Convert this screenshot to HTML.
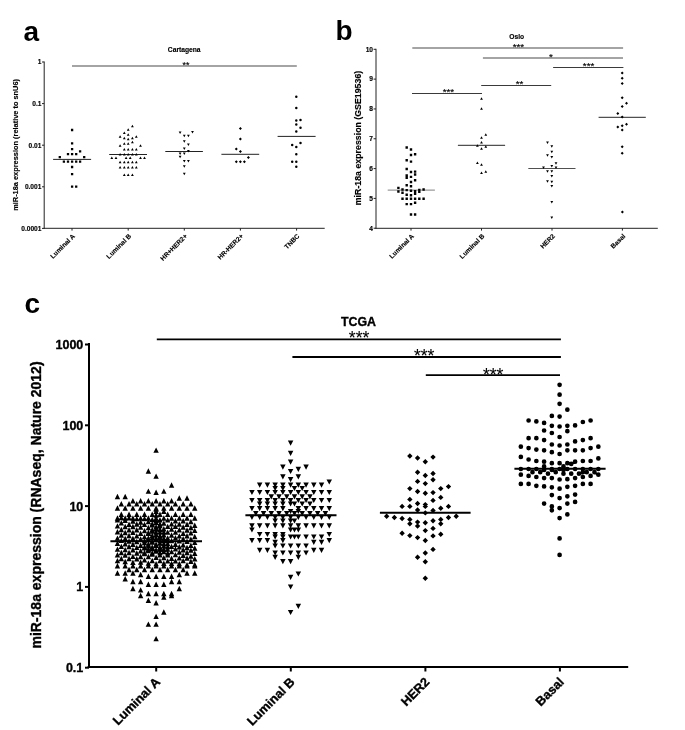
<!DOCTYPE html>
<html><head><meta charset="utf-8"><style>
html,body{margin:0;padding:0;background:#fff;}
svg{display:block;font-family:"Liberation Sans", sans-serif;will-change:transform;filter:blur(0.35px);}
</style></head><body>
<svg width="685" height="730" viewBox="0 0 685 730">
<rect width="685" height="730" fill="#fff"/>
<text x="23.6" y="40.7" font-size="28" font-weight="bold">a</text>
<text x="335.6" y="40.4" font-size="28" font-weight="bold">b</text>
<text x="24.6" y="312.8" font-size="28" font-weight="bold">c</text>
<line x1="44.20" y1="61.50" x2="44.20" y2="228.80" stroke="#222" stroke-width="1"/>
<line x1="43.70" y1="228.30" x2="324.70" y2="228.30" stroke="#222" stroke-width="1"/>
<line x1="42.00" y1="62.00" x2="44.20" y2="62.00" stroke="#222" stroke-width="1"/>
<text x="41.40" y="64.30" font-size="6.6" text-anchor="end" font-weight="bold" fill="#000" stroke="#000" stroke-width="0.15">1</text>
<line x1="42.00" y1="103.60" x2="44.20" y2="103.60" stroke="#222" stroke-width="1"/>
<text x="41.40" y="105.90" font-size="6.6" text-anchor="end" font-weight="bold" fill="#000" stroke="#000" stroke-width="0.15">0.1</text>
<line x1="42.00" y1="145.20" x2="44.20" y2="145.20" stroke="#222" stroke-width="1"/>
<text x="41.40" y="147.50" font-size="6.6" text-anchor="end" font-weight="bold" fill="#000" stroke="#000" stroke-width="0.15">0.01</text>
<line x1="42.00" y1="186.80" x2="44.20" y2="186.80" stroke="#222" stroke-width="1"/>
<text x="41.40" y="189.10" font-size="6.6" text-anchor="end" font-weight="bold" fill="#000" stroke="#000" stroke-width="0.15">0.001</text>
<line x1="42.00" y1="228.40" x2="44.20" y2="228.40" stroke="#222" stroke-width="1"/>
<text x="41.40" y="230.70" font-size="6.6" text-anchor="end" font-weight="bold" fill="#000" stroke="#000" stroke-width="0.15">0.0001</text>
<line x1="72.00" y1="228.30" x2="72.00" y2="230.60" stroke="#222" stroke-width="1"/>
<text x="75.40" y="236.60" font-size="6.6" text-anchor="end" font-weight="bold" fill="#000" stroke="#000" stroke-width="0.15" transform="rotate(-45 75.40 236.60)">Luminal A</text>
<line x1="128.20" y1="228.30" x2="128.20" y2="230.60" stroke="#222" stroke-width="1"/>
<text x="131.60" y="236.60" font-size="6.6" text-anchor="end" font-weight="bold" fill="#000" stroke="#000" stroke-width="0.15" transform="rotate(-45 131.60 236.60)">Luminal B</text>
<line x1="184.30" y1="228.30" x2="184.30" y2="230.60" stroke="#222" stroke-width="1"/>
<text x="187.70" y="236.60" font-size="6.6" text-anchor="end" font-weight="bold" fill="#000" stroke="#000" stroke-width="0.15" transform="rotate(-45 187.70 236.60)">HR+HER2+</text>
<line x1="240.40" y1="228.30" x2="240.40" y2="230.60" stroke="#222" stroke-width="1"/>
<text x="243.80" y="236.60" font-size="6.6" text-anchor="end" font-weight="bold" fill="#000" stroke="#000" stroke-width="0.15" transform="rotate(-45 243.80 236.60)">HR-HER2+</text>
<line x1="296.60" y1="228.30" x2="296.60" y2="230.60" stroke="#222" stroke-width="1"/>
<text x="300.00" y="236.60" font-size="6.6" text-anchor="end" font-weight="bold" fill="#000" stroke="#000" stroke-width="0.15" transform="rotate(-45 300.00 236.60)">TNBC</text>
<text x="184.20" y="52.00" font-size="6.7" text-anchor="middle" font-weight="bold" fill="#000" stroke="#000" stroke-width="0.15">Cartagena</text>
<line x1="72.00" y1="66.00" x2="296.80" y2="66.00" stroke="#a4a4a4" stroke-width="2"/>
<text x="186.00" y="67.80" font-size="8.8" text-anchor="middle" font-weight="normal" fill="#000" stroke="#000" stroke-width="0.15">**</text>
<text x="18.00" y="144.90" font-size="7.4" text-anchor="middle" font-weight="bold" fill="#000" stroke="#000" stroke-width="0.15" transform="rotate(-90 18.00 144.90)">miR-18a expression (relative to snU6)</text>
<line x1="53.10" y1="159.40" x2="91.10" y2="159.40" stroke="#222" stroke-width="1"/>
<line x1="109.20" y1="154.50" x2="147.00" y2="154.50" stroke="#222" stroke-width="1"/>
<line x1="165.30" y1="151.50" x2="202.90" y2="151.50" stroke="#222" stroke-width="1"/>
<line x1="221.40" y1="154.30" x2="259.20" y2="154.30" stroke="#222" stroke-width="1"/>
<line x1="277.60" y1="136.40" x2="315.60" y2="136.40" stroke="#222" stroke-width="1"/>
<path d="M70.95 128.85h2.30v2.30h-2.30ZM70.95 142.15h2.30v2.30h-2.30ZM70.95 147.95h2.30v2.30h-2.30ZM78.95 150.15h2.30v2.30h-2.30ZM66.85 152.95h2.30v2.30h-2.30ZM70.95 152.95h2.30v2.30h-2.30ZM75.05 152.95h2.30v2.30h-2.30ZM58.65 156.05h2.30v2.30h-2.30ZM83.05 156.05h2.30v2.30h-2.30ZM62.75 160.45h2.30v2.30h-2.30ZM66.85 160.45h2.30v2.30h-2.30ZM70.95 160.45h2.30v2.30h-2.30ZM75.05 160.45h2.30v2.30h-2.30ZM78.95 160.45h2.30v2.30h-2.30ZM70.95 165.85h2.30v2.30h-2.30ZM70.95 172.95h2.30v2.30h-2.30ZM70.95 185.55h2.30v2.30h-2.30ZM75.05 185.55h2.30v2.30h-2.30Z" fill="#000"/>
<path d="M131.00 127.26L132.40 124.74L133.80 127.26ZM126.80 130.76L128.20 128.24L129.60 130.76ZM122.90 133.96L124.30 131.44L125.70 133.96ZM126.80 135.76L128.20 133.24L129.60 135.76ZM118.70 137.86L120.10 135.34L121.50 137.86ZM134.90 137.86L136.30 135.34L137.70 137.86ZM122.90 139.26L124.30 136.74L125.70 139.26ZM131.00 139.26L132.40 136.74L133.80 139.26ZM126.80 140.36L128.20 137.84L129.60 140.36ZM131.00 143.16L132.40 140.64L133.80 143.16ZM122.90 144.76L124.30 142.24L125.70 144.76ZM126.80 144.76L128.20 142.24L129.60 144.76ZM118.70 146.66L120.10 144.14L121.50 146.66ZM139.10 146.66L140.50 144.14L141.90 146.66ZM122.90 150.56L124.30 148.04L125.70 150.56ZM126.80 150.56L128.20 148.04L129.60 150.56ZM131.00 150.56L132.40 148.04L133.80 150.56ZM134.90 150.56L136.30 148.04L137.70 150.56ZM118.70 155.46L120.10 152.94L121.50 155.46ZM122.90 155.46L124.30 152.94L125.70 155.46ZM126.80 155.46L128.20 152.94L129.60 155.46ZM131.00 155.46L132.40 152.94L133.80 155.46ZM134.90 155.46L136.30 152.94L137.70 155.46ZM110.40 159.06L111.80 156.54L113.20 159.06ZM114.60 159.06L116.00 156.54L117.40 159.06ZM124.70 159.06L126.10 156.54L127.50 159.06ZM128.80 159.06L130.20 156.54L131.60 159.06ZM139.10 159.06L140.50 156.54L141.90 159.06ZM143.10 159.06L144.50 156.54L145.90 159.06ZM118.70 163.16L120.10 160.64L121.50 163.16ZM122.90 163.16L124.30 160.64L125.70 163.16ZM126.80 163.16L128.20 160.64L129.60 163.16ZM131.00 163.16L132.40 160.64L133.80 163.16ZM134.90 163.16L136.30 160.64L137.70 163.16ZM118.70 168.56L120.10 166.04L121.50 168.56ZM122.90 168.56L124.30 166.04L125.70 168.56ZM126.80 168.56L128.20 166.04L129.60 168.56ZM131.00 168.56L132.40 166.04L133.80 168.56ZM134.90 168.56L136.30 166.04L137.70 168.56ZM122.90 175.96L124.30 173.44L125.70 175.96ZM126.80 175.96L128.20 173.44L129.60 175.96ZM131.00 175.96L132.40 173.44L133.80 175.96Z" fill="#000"/>
<path d="M178.70 131.54L180.10 134.06L181.50 131.54ZM191.10 130.94L192.50 133.46L193.90 130.94ZM182.90 134.84L184.30 137.36L185.70 134.84ZM187.00 134.84L188.40 137.36L189.80 134.84ZM182.90 140.14L184.30 142.66L185.70 140.14ZM187.00 143.44L188.40 145.96L189.80 143.44ZM182.90 147.54L184.30 150.06L185.70 147.54ZM187.00 149.94L188.40 152.46L189.80 149.94ZM178.70 152.54L180.10 155.06L181.50 152.54ZM182.90 152.54L184.30 155.06L185.70 152.54ZM178.70 155.84L180.10 158.36L181.50 155.84ZM182.90 159.94L184.30 162.46L185.70 159.94ZM187.00 159.94L188.40 162.46L189.80 159.94ZM182.90 165.24L184.30 167.76L185.70 165.24ZM182.90 172.84L184.30 175.36L185.70 172.84Z" fill="#000"/>
<path d="M240.40 127.00L241.90 128.50L240.40 130.00L238.90 128.50ZM240.40 137.60L241.90 139.10L240.40 140.60L238.90 139.10ZM236.30 147.60L237.80 149.10L236.30 150.60L234.80 149.10ZM240.40 150.00L241.90 151.50L240.40 153.00L238.90 151.50ZM248.40 156.10L249.90 157.60L248.40 159.10L246.90 157.60ZM236.30 160.30L237.80 161.80L236.30 163.30L234.80 161.80ZM240.40 160.30L241.90 161.80L240.40 163.30L238.90 161.80ZM244.40 160.30L245.90 161.80L244.40 163.30L242.90 161.80Z" fill="#000"/>
<path d="M295.05 96.70a1.25 1.25 0 1 0 2.50 0a1.25 1.25 0 1 0 -2.50 0ZM295.05 108.10a1.25 1.25 0 1 0 2.50 0a1.25 1.25 0 1 0 -2.50 0ZM295.05 120.40a1.25 1.25 0 1 0 2.50 0a1.25 1.25 0 1 0 -2.50 0ZM299.25 119.90a1.25 1.25 0 1 0 2.50 0a1.25 1.25 0 1 0 -2.50 0ZM295.05 124.50a1.25 1.25 0 1 0 2.50 0a1.25 1.25 0 1 0 -2.50 0ZM299.25 127.80a1.25 1.25 0 1 0 2.50 0a1.25 1.25 0 1 0 -2.50 0ZM295.05 131.60a1.25 1.25 0 1 0 2.50 0a1.25 1.25 0 1 0 -2.50 0ZM299.25 143.00a1.25 1.25 0 1 0 2.50 0a1.25 1.25 0 1 0 -2.50 0ZM290.95 145.00a1.25 1.25 0 1 0 2.50 0a1.25 1.25 0 1 0 -2.50 0ZM295.05 146.90a1.25 1.25 0 1 0 2.50 0a1.25 1.25 0 1 0 -2.50 0ZM295.05 154.30a1.25 1.25 0 1 0 2.50 0a1.25 1.25 0 1 0 -2.50 0ZM290.95 161.70a1.25 1.25 0 1 0 2.50 0a1.25 1.25 0 1 0 -2.50 0ZM295.05 161.70a1.25 1.25 0 1 0 2.50 0a1.25 1.25 0 1 0 -2.50 0ZM295.05 166.70a1.25 1.25 0 1 0 2.50 0a1.25 1.25 0 1 0 -2.50 0Z" fill="#000"/>
<line x1="376.00" y1="48.80" x2="376.00" y2="228.80" stroke="#222" stroke-width="1"/>
<line x1="375.50" y1="228.30" x2="657.80" y2="228.30" stroke="#222" stroke-width="1"/>
<line x1="373.60" y1="49.30" x2="376.00" y2="49.30" stroke="#222" stroke-width="1"/>
<text x="373.00" y="51.60" font-size="6.6" text-anchor="end" font-weight="bold" fill="#000" stroke="#000" stroke-width="0.15">10</text>
<line x1="373.60" y1="79.12" x2="376.00" y2="79.12" stroke="#222" stroke-width="1"/>
<text x="373.00" y="81.42" font-size="6.6" text-anchor="end" font-weight="bold" fill="#000" stroke="#000" stroke-width="0.15">9</text>
<line x1="373.60" y1="108.94" x2="376.00" y2="108.94" stroke="#222" stroke-width="1"/>
<text x="373.00" y="111.24" font-size="6.6" text-anchor="end" font-weight="bold" fill="#000" stroke="#000" stroke-width="0.15">8</text>
<line x1="373.60" y1="138.76" x2="376.00" y2="138.76" stroke="#222" stroke-width="1"/>
<text x="373.00" y="141.06" font-size="6.6" text-anchor="end" font-weight="bold" fill="#000" stroke="#000" stroke-width="0.15">7</text>
<line x1="373.60" y1="168.58" x2="376.00" y2="168.58" stroke="#222" stroke-width="1"/>
<text x="373.00" y="170.88" font-size="6.6" text-anchor="end" font-weight="bold" fill="#000" stroke="#000" stroke-width="0.15">6</text>
<line x1="373.60" y1="198.40" x2="376.00" y2="198.40" stroke="#222" stroke-width="1"/>
<text x="373.00" y="200.70" font-size="6.6" text-anchor="end" font-weight="bold" fill="#000" stroke="#000" stroke-width="0.15">5</text>
<line x1="373.60" y1="228.22" x2="376.00" y2="228.22" stroke="#222" stroke-width="1"/>
<text x="373.00" y="230.52" font-size="6.6" text-anchor="end" font-weight="bold" fill="#000" stroke="#000" stroke-width="0.15">4</text>
<line x1="411.00" y1="228.30" x2="411.00" y2="230.60" stroke="#222" stroke-width="1"/>
<text x="414.40" y="236.60" font-size="6.6" text-anchor="end" font-weight="bold" fill="#000" stroke="#000" stroke-width="0.15" transform="rotate(-45 414.40 236.60)">Luminal A</text>
<line x1="481.50" y1="228.30" x2="481.50" y2="230.60" stroke="#222" stroke-width="1"/>
<text x="484.90" y="236.60" font-size="6.6" text-anchor="end" font-weight="bold" fill="#000" stroke="#000" stroke-width="0.15" transform="rotate(-45 484.90 236.60)">Luminal B</text>
<line x1="552.00" y1="228.30" x2="552.00" y2="230.60" stroke="#222" stroke-width="1"/>
<text x="555.40" y="236.60" font-size="6.6" text-anchor="end" font-weight="bold" fill="#000" stroke="#000" stroke-width="0.15" transform="rotate(-45 555.40 236.60)">HER2</text>
<line x1="622.40" y1="228.30" x2="622.40" y2="230.60" stroke="#222" stroke-width="1"/>
<text x="625.80" y="236.60" font-size="6.6" text-anchor="end" font-weight="bold" fill="#000" stroke="#000" stroke-width="0.15" transform="rotate(-45 625.80 236.60)">Basal</text>
<text x="516.70" y="38.80" font-size="6.7" text-anchor="middle" font-weight="bold" fill="#000" stroke="#000" stroke-width="0.15">Oslo</text>
<text x="361.00" y="138.00" font-size="8.8" text-anchor="middle" font-weight="bold" fill="#000" stroke="#000" stroke-width="0.15" transform="rotate(-90 361.00 138.00)">miR-18a expression (GSE19536)</text>
<line x1="412.30" y1="48.00" x2="623.10" y2="48.00" stroke="#a4a4a4" stroke-width="2"/>
<text x="518.40" y="49.50" font-size="9.8" text-anchor="middle" font-weight="normal" fill="#000" stroke="#000" stroke-width="0.15">***</text>
<line x1="482.90" y1="58.00" x2="623.00" y2="58.00" stroke="#a4a4a4" stroke-width="2"/>
<text x="550.90" y="59.80" font-size="9.8" text-anchor="middle" font-weight="normal" fill="#000" stroke="#000" stroke-width="0.15">*</text>
<line x1="553.10" y1="67.50" x2="623.40" y2="67.50" stroke="#3a3a3a" stroke-width="1.1"/>
<text x="588.60" y="68.80" font-size="9.8" text-anchor="middle" font-weight="normal" fill="#000" stroke="#000" stroke-width="0.15">***</text>
<line x1="481.20" y1="85.50" x2="551.20" y2="85.50" stroke="#3a3a3a" stroke-width="1.1"/>
<text x="519.60" y="87.00" font-size="9.8" text-anchor="middle" font-weight="normal" fill="#000" stroke="#000" stroke-width="0.15">**</text>
<line x1="412.00" y1="93.50" x2="482.00" y2="93.50" stroke="#3a3a3a" stroke-width="1.1"/>
<text x="448.40" y="94.80" font-size="9.8" text-anchor="middle" font-weight="normal" fill="#000" stroke="#000" stroke-width="0.15">***</text>
<line x1="387.70" y1="190.10" x2="434.90" y2="190.10" stroke="#9a9a9a" stroke-width="1.2"/>
<line x1="457.90" y1="145.40" x2="505.10" y2="145.40" stroke="#505050" stroke-width="1.2"/>
<line x1="528.30" y1="168.50" x2="575.50" y2="168.50" stroke="#505050" stroke-width="1.2"/>
<line x1="598.60" y1="117.40" x2="645.80" y2="117.40" stroke="#505050" stroke-width="1.2"/>
<path d="M405.50 146.30h2.40v2.40h-2.40ZM409.80 148.30h2.40v2.40h-2.40ZM409.80 153.80h2.40v2.40h-2.40ZM413.90 153.00h2.40v2.40h-2.40ZM405.50 159.10h2.40v2.40h-2.40ZM409.80 160.40h2.40v2.40h-2.40ZM405.50 167.80h2.40v2.40h-2.40ZM409.80 170.80h2.40v2.40h-2.40ZM413.90 170.40h2.40v2.40h-2.40ZM413.90 173.30h2.40v2.40h-2.40ZM405.50 174.20h2.40v2.40h-2.40ZM405.50 176.60h2.40v2.40h-2.40ZM409.80 175.70h2.40v2.40h-2.40ZM413.90 179.00h2.40v2.40h-2.40ZM409.80 180.80h2.40v2.40h-2.40ZM405.50 184.00h2.40v2.40h-2.40ZM409.80 185.00h2.40v2.40h-2.40ZM397.20 186.70h2.40v2.40h-2.40ZM397.20 190.30h2.40v2.40h-2.40ZM401.30 188.30h2.40v2.40h-2.40ZM405.50 188.90h2.40v2.40h-2.40ZM409.80 189.50h2.40v2.40h-2.40ZM413.90 190.00h2.40v2.40h-2.40ZM418.10 188.70h2.40v2.40h-2.40ZM422.40 188.30h2.40v2.40h-2.40ZM418.10 190.60h2.40v2.40h-2.40ZM413.90 192.50h2.40v2.40h-2.40ZM401.30 191.60h2.40v2.40h-2.40ZM405.50 193.60h2.40v2.40h-2.40ZM409.80 194.10h2.40v2.40h-2.40ZM401.30 197.60h2.40v2.40h-2.40ZM405.50 197.60h2.40v2.40h-2.40ZM409.80 197.60h2.40v2.40h-2.40ZM413.90 197.60h2.40v2.40h-2.40ZM418.10 197.60h2.40v2.40h-2.40ZM422.40 197.60h2.40v2.40h-2.40ZM405.50 202.90h2.40v2.40h-2.40ZM409.80 202.90h2.40v2.40h-2.40ZM413.90 201.60h2.40v2.40h-2.40ZM409.80 213.30h2.40v2.40h-2.40ZM413.90 213.30h2.40v2.40h-2.40Z" fill="#000"/>
<path d="M480.10 99.66L481.50 97.14L482.90 99.66ZM480.10 109.66L481.50 107.14L482.90 109.66ZM484.40 135.76L485.80 133.24L487.20 135.76ZM480.10 138.66L481.50 136.14L482.90 138.66ZM480.10 143.56L481.50 141.04L482.90 143.56ZM476.00 146.76L477.40 144.24L478.80 146.76ZM484.40 147.66L485.80 145.14L487.20 147.66ZM480.10 149.66L481.50 147.14L482.90 149.66ZM476.00 163.96L477.40 161.44L478.80 163.96ZM480.10 165.66L481.50 163.14L482.90 165.66ZM480.10 174.06L481.50 171.54L482.90 174.06ZM484.40 172.76L485.80 170.24L487.20 172.76Z" fill="#000"/>
<path d="M546.10 141.54L547.50 144.06L548.90 141.54ZM550.40 145.24L551.80 147.76L553.20 145.24ZM550.40 150.84L551.80 153.36L553.20 150.84ZM546.10 154.14L547.50 156.66L548.90 154.14ZM550.40 156.04L551.80 158.56L553.20 156.04ZM554.60 162.34L556.00 164.86L557.40 162.34ZM550.40 164.94L551.80 167.46L553.20 164.94ZM542.10 166.44L543.50 168.96L544.90 166.44ZM554.60 166.44L556.00 168.96L557.40 166.44ZM546.10 170.14L547.50 172.66L548.90 170.14ZM550.40 170.14L551.80 172.66L553.20 170.14ZM550.40 174.94L551.80 177.46L553.20 174.94ZM546.10 180.14L547.50 182.66L548.90 180.14ZM550.40 180.84L551.80 183.36L553.20 180.84ZM550.40 184.94L551.80 187.46L553.20 184.94ZM550.40 200.94L551.80 203.46L553.20 200.94ZM550.40 216.54L551.80 219.06L553.20 216.54Z" fill="#000"/>
<path d="M622.20 71.50L623.70 73.00L622.20 74.50L620.70 73.00ZM622.20 76.70L623.70 78.20L622.20 79.70L620.70 78.20ZM622.20 81.90L623.70 83.40L622.20 84.90L620.70 83.40ZM622.20 96.20L623.70 97.70L622.20 99.20L620.70 97.70ZM626.50 101.80L628.00 103.30L626.50 104.80L625.00 103.30ZM622.20 105.10L623.70 106.60L622.20 108.10L620.70 106.60ZM617.80 111.90L619.30 113.40L617.80 114.90L616.30 113.40ZM622.20 115.50L623.70 117.00L622.20 118.50L620.70 117.00ZM626.50 122.70L628.00 124.20L626.50 125.70L625.00 124.20ZM622.20 124.20L623.70 125.70L622.20 127.20L620.70 125.70ZM617.80 125.50L619.30 127.00L617.80 128.50L616.30 127.00ZM622.20 128.50L623.70 130.00L622.20 131.50L620.70 130.00ZM622.20 145.30L623.70 146.80L622.20 148.30L620.70 146.80ZM622.20 151.80L623.70 153.30L622.20 154.80L620.70 153.30ZM622.40 210.50L623.90 212.00L622.40 213.50L620.90 212.00Z" fill="#000"/>
<line x1="89.00" y1="343.00" x2="89.00" y2="668.00" stroke="#000" stroke-width="2"/>
<line x1="87.60" y1="667.00" x2="628.20" y2="667.00" stroke="#000" stroke-width="2"/>
<line x1="85.00" y1="344.50" x2="89.00" y2="344.50" stroke="#000" stroke-width="2"/>
<text x="83.30" y="349.00" font-size="12.5" text-anchor="end" font-weight="bold" fill="#000" stroke="#000" stroke-width="0.35">1000</text>
<line x1="85.00" y1="425.30" x2="89.00" y2="425.30" stroke="#000" stroke-width="2"/>
<text x="83.30" y="429.80" font-size="12.5" text-anchor="end" font-weight="bold" fill="#000" stroke="#000" stroke-width="0.35">100</text>
<line x1="85.00" y1="506.10" x2="89.00" y2="506.10" stroke="#000" stroke-width="2"/>
<text x="83.30" y="510.60" font-size="12.5" text-anchor="end" font-weight="bold" fill="#000" stroke="#000" stroke-width="0.35">10</text>
<line x1="85.00" y1="586.90" x2="89.00" y2="586.90" stroke="#000" stroke-width="2"/>
<text x="83.30" y="591.40" font-size="12.5" text-anchor="end" font-weight="bold" fill="#000" stroke="#000" stroke-width="0.35">1</text>
<line x1="85.00" y1="667.70" x2="89.00" y2="667.70" stroke="#000" stroke-width="2"/>
<text x="83.30" y="672.20" font-size="12.5" text-anchor="end" font-weight="bold" fill="#000" stroke="#000" stroke-width="0.35">0.1</text>
<line x1="156.20" y1="667.00" x2="156.20" y2="671.50" stroke="#000" stroke-width="2"/>
<text x="161.00" y="682.80" font-size="12.7" text-anchor="end" font-weight="bold" fill="#000" stroke="#000" stroke-width="0.35" transform="rotate(-45 161.00 682.80)">Luminal A</text>
<line x1="290.80" y1="667.00" x2="290.80" y2="671.50" stroke="#000" stroke-width="2"/>
<text x="295.60" y="682.80" font-size="12.7" text-anchor="end" font-weight="bold" fill="#000" stroke="#000" stroke-width="0.35" transform="rotate(-45 295.60 682.80)">Luminal B</text>
<line x1="425.40" y1="667.00" x2="425.40" y2="671.50" stroke="#000" stroke-width="2"/>
<text x="430.20" y="682.80" font-size="12.7" text-anchor="end" font-weight="bold" fill="#000" stroke="#000" stroke-width="0.35" transform="rotate(-45 430.20 682.80)">HER2</text>
<line x1="559.90" y1="667.00" x2="559.90" y2="671.50" stroke="#000" stroke-width="2"/>
<text x="564.70" y="682.80" font-size="12.7" text-anchor="end" font-weight="bold" fill="#000" stroke="#000" stroke-width="0.35" transform="rotate(-45 564.70 682.80)">Basal</text>
<text x="358.50" y="325.70" font-size="12.4" text-anchor="middle" font-weight="bold" fill="#000" stroke="#000" stroke-width="0.35">TCGA</text>
<line x1="156.80" y1="339.30" x2="560.90" y2="339.30" stroke="#000" stroke-width="1.8"/>
<text x="359.10" y="343.50" font-size="17.6" text-anchor="middle" font-weight="normal" fill="#000" stroke="#000" stroke-width="0.1">***</text>
<line x1="292.40" y1="357.00" x2="560.90" y2="357.00" stroke="#000" stroke-width="1.8"/>
<text x="424.20" y="362.30" font-size="17.6" text-anchor="middle" font-weight="normal" fill="#000" stroke="#000" stroke-width="0.1">***</text>
<line x1="425.80" y1="375.10" x2="560.00" y2="375.10" stroke="#000" stroke-width="1.8"/>
<text x="493.20" y="380.70" font-size="17.6" text-anchor="middle" font-weight="normal" fill="#000" stroke="#000" stroke-width="0.1">***</text>
<text x="41.10" y="505.00" font-size="14" text-anchor="middle" font-weight="bold" fill="#000" stroke="#000" stroke-width="0.35" transform="rotate(-90 41.10 505.00)">miR-18a expression (RNAseq, Nature 2012)</text>
<line x1="110.40" y1="541.30" x2="202.00" y2="541.30" stroke="#000" stroke-width="2"/>
<line x1="245.40" y1="515.30" x2="336.50" y2="515.30" stroke="#000" stroke-width="2"/>
<line x1="379.90" y1="512.70" x2="470.60" y2="512.70" stroke="#000" stroke-width="2"/>
<line x1="514.40" y1="468.70" x2="605.60" y2="468.70" stroke="#000" stroke-width="2"/>
<path d="M153.40 452.80L156.10 447.40L158.80 452.80ZM145.67 473.70L148.37 468.30L151.07 473.70ZM153.40 478.80L156.10 473.40L158.80 478.80ZM168.86 487.70L171.56 482.30L174.26 487.70ZM145.67 493.80L148.37 488.40L151.07 493.80ZM161.13 493.80L163.83 488.40L166.53 493.80ZM153.40 494.90L156.10 489.50L158.80 494.90ZM114.75 499.20L117.45 493.80L120.15 499.20ZM122.48 499.20L125.18 493.80L127.88 499.20ZM176.59 500.70L179.29 495.30L181.99 500.70ZM184.32 500.70L187.02 495.30L189.72 500.70ZM130.21 503.40L132.91 498.00L135.61 503.40ZM137.94 503.40L140.64 498.00L143.34 503.40ZM145.67 503.40L148.37 498.00L151.07 503.40ZM153.40 503.40L156.10 498.00L158.80 503.40ZM161.13 503.40L163.83 498.00L166.53 503.40ZM168.86 503.40L171.56 498.00L174.26 503.40ZM118.61 506.50L121.31 501.10L124.02 506.50ZM126.34 506.50L129.04 501.10L131.74 506.50ZM134.07 506.50L136.77 501.10L139.47 506.50ZM141.81 506.50L144.50 501.10L147.20 506.50ZM149.53 506.50L152.23 501.10L154.93 506.50ZM157.27 506.50L159.97 501.10L162.66 506.50ZM165.00 506.50L167.69 501.10L170.39 506.50ZM172.73 506.50L175.43 501.10L178.12 506.50ZM180.46 506.50L183.16 501.10L185.85 506.50ZM188.19 506.50L190.88 501.10L193.58 506.50ZM114.75 510.70L117.45 505.30L120.15 510.70ZM122.48 510.70L125.18 505.30L127.88 510.70ZM130.21 510.70L132.91 505.30L135.61 510.70ZM137.94 510.70L140.64 505.30L143.34 510.70ZM145.67 510.70L148.37 505.30L151.07 510.70ZM153.40 510.70L156.10 505.30L158.80 510.70ZM161.13 510.70L163.83 505.30L166.53 510.70ZM168.86 510.70L171.56 505.30L174.26 510.70ZM176.59 510.70L179.29 505.30L181.99 510.70ZM184.32 510.70L187.02 505.30L189.72 510.70ZM192.05 510.70L194.75 505.30L197.45 510.70ZM153.40 513.90L156.10 508.50L158.80 513.90ZM161.13 513.90L163.83 508.50L166.53 513.90ZM118.61 517.00L121.31 511.60L124.02 517.00ZM126.34 517.00L129.04 511.60L131.74 517.00ZM134.07 517.00L136.77 511.60L139.47 517.00ZM141.81 517.00L144.50 511.60L147.20 517.00ZM149.53 517.00L152.23 511.60L154.93 517.00ZM157.27 517.00L159.97 511.60L162.66 517.00ZM165.00 517.00L167.69 511.60L170.39 517.00ZM172.73 517.00L175.43 511.60L178.12 517.00ZM180.46 517.00L183.16 511.60L185.85 517.00ZM188.19 517.00L190.88 511.60L193.58 517.00ZM114.75 520.70L117.45 515.30L120.15 520.70ZM122.48 520.70L125.18 515.30L127.88 520.70ZM130.21 520.70L132.91 515.30L135.61 520.70ZM137.94 520.70L140.64 515.30L143.34 520.70ZM145.67 520.70L148.37 515.30L151.07 520.70ZM153.40 520.70L156.10 515.30L158.80 520.70ZM161.13 520.70L163.83 515.30L166.53 520.70ZM168.86 520.70L171.56 515.30L174.26 520.70ZM176.59 520.70L179.29 515.30L181.99 520.70ZM184.32 520.70L187.02 515.30L189.72 520.70ZM192.05 520.70L194.75 515.30L197.45 520.70ZM118.61 520.20L121.31 514.80L124.02 520.20ZM126.34 520.38L129.04 514.98L131.74 520.38ZM134.07 521.33L136.77 515.93L139.47 521.33ZM141.81 521.20L144.50 515.80L147.20 521.20ZM149.53 522.11L152.23 516.71L154.93 522.11ZM157.27 522.39L159.97 516.99L162.66 522.39ZM165.00 522.53L167.69 517.13L170.39 522.53ZM172.73 523.43L175.43 518.03L178.12 523.43ZM180.46 523.41L183.16 518.01L185.85 523.41ZM188.19 524.26L190.88 518.86L193.58 524.26ZM114.75 522.52L117.45 517.12L120.15 522.52ZM122.48 522.99L125.18 517.59L127.88 522.99ZM130.21 523.77L132.91 518.37L135.61 523.77ZM137.94 524.63L140.64 519.23L143.34 524.63ZM145.67 524.37L148.37 518.97L151.07 524.37ZM153.40 524.92L156.10 519.52L158.80 524.92ZM161.13 525.78L163.83 520.38L166.53 525.78ZM168.86 526.55L171.56 521.15L174.26 526.55ZM176.59 526.63L179.29 521.23L181.99 526.63ZM184.32 526.90L187.02 521.50L189.72 526.90ZM192.05 527.93L194.75 522.53L197.45 527.93ZM118.61 525.62L121.31 520.22L124.02 525.62ZM126.34 526.88L129.04 521.48L131.74 526.88ZM134.07 526.76L136.77 521.36L139.47 526.76ZM141.81 527.07L144.50 521.67L147.20 527.07ZM149.53 527.49L152.23 522.09L154.93 527.49ZM157.27 528.13L159.97 522.73L162.66 528.13ZM165.00 529.09L167.69 523.69L170.39 529.09ZM172.73 528.91L175.43 523.51L178.12 528.91ZM180.46 529.76L183.16 524.36L185.85 529.76ZM188.19 530.26L190.88 524.86L193.58 530.26ZM114.75 528.62L117.45 523.22L120.15 528.62ZM122.48 529.25L125.18 523.85L127.88 529.25ZM130.21 529.21L132.91 523.81L135.61 529.21ZM137.94 529.66L140.64 524.26L143.34 529.66ZM145.67 530.26L148.37 524.86L151.07 530.26ZM153.40 531.18L156.10 525.78L158.80 531.18ZM161.13 531.38L163.83 525.98L166.53 531.38ZM168.86 531.71L171.56 526.31L174.26 531.71ZM176.59 532.44L179.29 527.04L181.99 532.44ZM184.32 532.75L187.02 527.35L189.72 532.75ZM192.05 533.05L194.75 527.65L197.45 533.05ZM118.61 532.17L121.31 526.77L124.02 532.17ZM126.34 532.52L129.04 527.12L131.74 532.52ZM134.07 532.52L136.77 527.12L139.47 532.52ZM141.81 533.30L144.50 527.90L147.20 533.30ZM149.53 533.70L152.23 528.30L154.93 533.70ZM157.27 534.50L159.97 529.10L162.66 534.50ZM165.00 534.80L167.69 529.40L170.39 534.80ZM172.73 534.81L175.43 529.41L178.12 534.81ZM180.46 535.96L183.16 530.56L185.85 535.96ZM188.19 535.54L190.88 530.14L193.58 535.54ZM114.75 534.47L117.45 529.07L120.15 534.47ZM122.48 535.26L125.18 529.86L127.88 535.26ZM130.21 535.10L132.91 529.70L135.61 535.10ZM137.94 535.89L140.64 530.49L143.34 535.89ZM145.67 535.89L148.37 530.49L151.07 535.89ZM153.40 536.97L156.10 531.57L158.80 536.97ZM161.13 537.51L163.83 532.11L166.53 537.51ZM168.86 537.77L171.56 532.37L174.26 537.77ZM176.59 538.53L179.29 533.13L181.99 538.53ZM184.32 538.41L187.02 533.01L189.72 538.41ZM192.05 539.25L194.75 533.85L197.45 539.25ZM118.61 537.77L121.31 532.37L124.02 537.77ZM126.34 538.20L129.04 532.80L131.74 538.20ZM134.07 538.53L136.77 533.13L139.47 538.53ZM141.81 539.36L144.50 533.96L147.20 539.36ZM149.53 539.92L152.23 534.52L154.93 539.92ZM157.27 539.90L159.97 534.50L162.66 539.90ZM165.00 540.54L167.69 535.14L170.39 540.54ZM172.73 540.39L175.43 534.99L178.12 540.39ZM180.46 541.48L183.16 536.08L185.85 541.48ZM188.19 541.87L190.88 536.47L193.58 541.87ZM114.75 540.84L117.45 535.44L120.15 540.84ZM122.48 541.12L125.18 535.72L127.88 541.12ZM130.21 541.03L132.91 535.63L135.61 541.03ZM137.94 541.59L140.64 536.19L143.34 541.59ZM145.67 542.32L148.37 536.92L151.07 542.32ZM153.40 542.12L156.10 536.72L158.80 542.12ZM161.13 543.01L163.83 537.61L166.53 543.01ZM168.86 543.17L171.56 537.77L174.26 543.17ZM176.59 543.57L179.29 538.17L181.99 543.57ZM184.32 543.96L187.02 538.56L189.72 543.96ZM192.05 545.12L194.75 539.72L197.45 545.12ZM118.61 543.10L121.31 537.70L124.02 543.10ZM126.34 543.67L129.04 538.27L131.74 543.67ZM134.07 544.27L136.77 538.87L139.47 544.27ZM141.81 545.20L144.50 539.80L147.20 545.20ZM149.53 544.86L152.23 539.46L154.93 544.86ZM157.27 545.67L159.97 540.27L162.66 545.67ZM165.00 546.22L167.69 540.82L170.39 546.22ZM172.73 547.01L175.43 541.61L178.12 547.01ZM180.46 547.39L183.16 541.99L185.85 547.39ZM188.19 547.89L190.88 542.49L193.58 547.89ZM114.75 545.93L117.45 540.53L120.15 545.93ZM122.48 546.52L125.18 541.12L127.88 546.52ZM130.21 546.91L132.91 541.51L135.61 546.91ZM137.94 547.88L140.64 542.48L143.34 547.88ZM145.67 548.41L148.37 543.01L151.07 548.41ZM153.40 548.05L156.10 542.65L158.80 548.05ZM161.13 548.53L163.83 543.13L166.53 548.53ZM168.86 549.03L171.56 543.63L174.26 549.03ZM176.59 549.48L179.29 544.08L181.99 549.48ZM184.32 550.18L187.02 544.78L189.72 550.18ZM192.05 550.74L194.75 545.34L197.45 550.74ZM118.61 549.04L121.31 543.64L124.02 549.04ZM126.34 549.23L129.04 543.83L131.74 549.23ZM134.07 550.09L136.77 544.69L139.47 550.09ZM141.81 550.49L144.50 545.09L147.20 550.49ZM149.53 551.14L152.23 545.74L154.93 551.14ZM157.27 551.63L159.97 546.23L162.66 551.63ZM165.00 551.82L167.69 546.42L170.39 551.82ZM172.73 551.53L175.43 546.13L178.12 551.53ZM180.46 552.52L183.16 547.12L185.85 552.52ZM188.19 552.81L190.88 547.41L193.58 552.81ZM114.75 551.84L117.45 546.44L120.15 551.84ZM122.48 552.30L125.18 546.90L127.88 552.30ZM130.21 552.45L132.91 547.05L135.61 552.45ZM137.94 553.43L140.64 548.03L143.34 553.43ZM145.67 553.31L148.37 547.91L151.07 553.31ZM153.40 553.77L156.10 548.37L158.80 553.77ZM161.13 554.13L163.83 548.73L166.53 554.13ZM168.86 554.29L171.56 548.89L174.26 554.29ZM176.59 554.66L179.29 549.26L181.99 554.66ZM184.32 555.14L187.02 549.74L189.72 555.14ZM192.05 555.92L194.75 550.52L197.45 555.92ZM118.61 555.19L121.31 549.79L124.02 555.19ZM126.34 555.17L129.04 549.77L131.74 555.17ZM134.07 555.73L136.77 550.33L139.47 555.73ZM141.81 556.27L144.50 550.87L147.20 556.27ZM149.53 556.74L152.23 551.34L154.93 556.74ZM157.27 557.58L159.97 552.18L162.66 557.58ZM165.00 557.47L167.69 552.07L170.39 557.47ZM172.73 557.36L175.43 551.96L178.12 557.36ZM180.46 557.89L183.16 552.49L185.85 557.89ZM188.19 558.64L190.88 553.24L193.58 558.64ZM114.75 557.41L117.45 552.01L120.15 557.41ZM122.48 557.72L125.18 552.32L127.88 557.72ZM130.21 559.10L132.91 553.70L135.61 559.10ZM137.94 559.13L140.64 553.73L143.34 559.13ZM145.67 559.20L148.37 553.80L151.07 559.20ZM153.40 560.04L156.10 554.64L158.80 560.04ZM161.13 560.30L163.83 554.90L166.53 560.30ZM168.86 560.90L171.56 555.50L174.26 560.90ZM176.59 560.57L179.29 555.17L181.99 560.57ZM184.32 560.75L187.02 555.35L189.72 560.75ZM192.05 561.38L194.75 555.98L197.45 561.38ZM118.61 561.15L121.31 555.75L124.02 561.15ZM126.34 561.15L129.04 555.75L131.74 561.15ZM134.07 561.50L136.77 556.10L139.47 561.50ZM141.81 562.54L144.50 557.14L147.20 562.54ZM149.53 563.16L152.23 557.76L154.93 563.16ZM157.27 563.34L159.97 557.94L162.66 563.34ZM165.00 563.54L167.69 558.14L170.39 563.54ZM172.73 563.59L175.43 558.19L178.12 563.59ZM180.46 563.37L183.16 557.97L185.85 563.37ZM188.19 563.89L190.88 558.49L193.58 563.89ZM114.75 563.31L117.45 557.91L120.15 563.31ZM122.48 564.19L125.18 558.79L127.88 564.19ZM130.21 564.91L132.91 559.51L135.61 564.91ZM137.94 564.85L140.64 559.45L143.34 564.85ZM145.67 565.79L148.37 560.39L151.07 565.79ZM153.40 566.29L156.10 560.89L158.80 566.29ZM161.13 565.93L163.83 560.53L166.53 565.93ZM168.86 566.07L171.56 560.67L174.26 566.07ZM176.59 566.31L179.29 560.91L181.99 566.31ZM184.32 567.28L187.02 561.88L189.72 567.28ZM192.05 567.13L194.75 561.73L197.45 567.13ZM153.40 511.82L156.10 506.42L158.80 511.82ZM153.40 517.74L156.10 512.34L158.80 517.74ZM153.40 522.97L156.10 517.57L158.80 522.97ZM149.53 526.33L152.23 520.93L154.93 526.33ZM157.27 526.53L159.97 521.13L162.66 526.53ZM153.40 529.33L156.10 523.93L158.80 529.33ZM149.53 532.20L152.23 526.80L154.93 532.20ZM157.27 531.98L159.97 526.58L162.66 531.98ZM153.40 534.64L156.10 529.24L158.80 534.64ZM145.67 535.13L148.37 529.73L151.07 535.13ZM161.13 534.77L163.83 529.37L166.53 534.77ZM149.53 538.04L152.23 532.64L154.93 538.04ZM157.27 538.18L159.97 532.78L162.66 538.18ZM153.40 540.62L156.10 535.22L158.80 540.62ZM145.67 540.62L148.37 535.22L151.07 540.62ZM161.13 541.06L163.83 535.66L166.53 541.06ZM149.53 543.78L152.23 538.38L154.93 543.78ZM157.27 543.34L159.97 537.94L162.66 543.34ZM141.81 543.30L144.50 537.90L147.20 543.30ZM165.00 543.32L167.69 537.92L170.39 543.32ZM153.40 546.82L156.10 541.42L158.80 546.82ZM145.67 546.75L148.37 541.35L151.07 546.75ZM161.13 546.22L163.83 540.82L166.53 546.22ZM149.53 549.66L152.23 544.26L154.93 549.66ZM157.27 549.78L159.97 544.38L162.66 549.78ZM141.81 549.53L144.50 544.13L147.20 549.53ZM165.00 549.28L167.69 543.88L170.39 549.28ZM153.40 552.34L156.10 546.94L158.80 552.34ZM145.67 552.00L148.37 546.60L151.07 552.00ZM161.13 551.91L163.83 546.51L166.53 551.91ZM149.53 555.58L152.23 550.18L154.93 555.58ZM157.27 555.32L159.97 549.92L162.66 555.32ZM141.81 555.22L144.50 549.82L147.20 555.22ZM165.00 555.55L167.69 550.15L170.39 555.55ZM114.75 568.50L117.45 563.10L120.15 568.50ZM122.48 568.50L125.18 563.10L127.88 568.50ZM130.21 568.50L132.91 563.10L135.61 568.50ZM137.94 568.50L140.64 563.10L143.34 568.50ZM145.67 568.50L148.37 563.10L151.07 568.50ZM153.40 568.50L156.10 563.10L158.80 568.50ZM161.13 568.50L163.83 563.10L166.53 568.50ZM168.86 568.50L171.56 563.10L174.26 568.50ZM176.59 568.50L179.29 563.10L181.99 568.50ZM184.32 568.50L187.02 563.10L189.72 568.50ZM192.05 568.50L194.75 563.10L197.45 568.50ZM126.34 572.20L129.04 566.80L131.74 572.20ZM134.07 572.20L136.77 566.80L139.47 572.20ZM141.81 572.20L144.50 566.80L147.20 572.20ZM149.53 572.20L152.23 566.80L154.93 572.20ZM157.27 572.20L159.97 566.80L162.66 572.20ZM165.00 572.20L167.69 566.80L170.39 572.20ZM172.73 572.20L175.43 566.80L178.12 572.20ZM180.46 572.20L183.16 566.80L185.85 572.20ZM114.75 575.70L117.45 570.30L120.15 575.70ZM122.48 575.70L125.18 570.30L127.88 575.70ZM130.21 575.70L132.91 570.30L135.61 575.70ZM184.32 575.70L187.02 570.30L189.72 575.70ZM192.05 575.70L194.75 570.30L197.45 575.70ZM137.94 577.20L140.64 571.80L143.34 577.20ZM176.59 577.20L179.29 571.80L181.99 577.20ZM145.67 578.90L148.37 573.50L151.07 578.90ZM153.40 578.90L156.10 573.50L158.80 578.90ZM161.13 578.90L163.83 573.50L166.53 578.90ZM168.86 578.90L171.56 573.50L174.26 578.90ZM122.48 581.40L125.18 576.00L127.88 581.40ZM130.21 584.20L132.91 578.80L135.61 584.20ZM137.94 584.20L140.64 578.80L143.34 584.20ZM168.86 584.20L171.56 578.80L174.26 584.20ZM176.59 584.20L179.29 578.80L181.99 584.20ZM145.67 587.00L148.37 581.60L151.07 587.00ZM153.40 587.00L156.10 581.60L158.80 587.00ZM161.13 587.00L163.83 581.60L166.53 587.00ZM130.21 591.20L132.91 585.80L135.61 591.20ZM176.59 591.20L179.29 585.80L181.99 591.20ZM137.94 592.60L140.64 587.20L143.34 592.60ZM145.67 596.20L148.37 590.80L151.07 596.20ZM153.40 596.20L156.10 590.80L158.80 596.20ZM161.13 596.20L163.83 590.80L166.53 596.20ZM168.86 596.20L171.56 590.80L174.26 596.20ZM137.94 598.20L140.64 592.80L143.34 598.20ZM168.86 598.20L171.56 592.80L174.26 598.20ZM161.13 599.80L163.83 594.40L166.53 599.80ZM145.67 603.00L148.37 597.60L151.07 603.00ZM153.40 605.40L156.10 600.00L158.80 605.40ZM161.13 614.70L163.83 609.30L166.53 614.70ZM153.40 619.10L156.10 613.70L158.80 619.10ZM145.67 626.80L148.37 621.40L151.07 626.80ZM153.40 626.80L156.10 621.40L158.80 626.80ZM153.40 641.30L156.10 635.90L158.80 641.30Z" fill="#000"/>
<path d="M287.85 440.49L290.60 445.71L293.35 440.49ZM287.85 450.69L290.60 455.91L293.35 450.69ZM287.85 459.49L290.60 464.71L293.35 459.49ZM280.12 464.49L282.87 469.71L285.62 464.49ZM303.31 464.49L306.06 469.71L308.81 464.49ZM295.58 466.79L298.33 472.01L301.08 466.79ZM287.85 468.89L290.60 474.11L293.35 468.89ZM280.12 474.19L282.87 479.41L285.62 474.19ZM295.58 474.19L298.33 479.41L301.08 474.19ZM287.85 476.99L290.60 482.21L293.35 476.99ZM326.50 479.39L329.25 484.61L332.00 479.39ZM256.93 482.59L259.68 487.81L262.43 482.59ZM264.66 482.59L267.41 487.81L270.16 482.59ZM272.39 482.59L275.14 487.81L277.89 482.59ZM280.12 482.59L282.87 487.81L285.62 482.59ZM287.85 482.59L290.60 487.81L293.35 482.59ZM295.58 482.59L298.33 487.81L301.08 482.59ZM303.31 482.59L306.06 487.81L308.81 482.59ZM311.04 482.59L313.79 487.81L316.54 482.59ZM318.77 482.59L321.52 487.81L324.27 482.59ZM272.39 485.89L275.14 491.11L277.89 485.89ZM280.12 485.89L282.87 491.11L285.62 485.89ZM291.72 485.89L294.47 491.11L297.22 485.89ZM299.45 485.89L302.20 491.11L304.95 485.89ZM249.20 489.89L251.95 495.11L254.70 489.89ZM256.93 489.89L259.68 495.11L262.43 489.89ZM264.66 489.89L267.41 495.11L270.16 489.89ZM272.39 489.89L275.14 495.11L277.89 489.89ZM280.12 489.89L282.87 495.11L285.62 489.89ZM287.85 489.89L290.60 495.11L293.35 489.89ZM295.58 489.89L298.33 495.11L301.08 489.89ZM303.31 489.89L306.06 495.11L308.81 489.89ZM311.04 489.89L313.79 495.11L316.54 489.89ZM318.77 489.89L321.52 495.11L324.27 489.89ZM326.50 489.89L329.25 495.11L332.00 489.89ZM268.53 494.29L271.28 499.51L274.03 494.29ZM276.25 494.29L279.00 499.51L281.75 494.29ZM283.99 494.29L286.74 499.51L289.49 494.29ZM291.72 494.29L294.47 499.51L297.22 494.29ZM299.45 494.29L302.20 499.51L304.95 494.29ZM307.18 494.29L309.93 499.51L312.68 494.29ZM249.20 497.89L251.95 503.11L254.70 497.89ZM256.93 497.89L259.68 503.11L262.43 497.89ZM264.66 497.89L267.41 503.11L270.16 497.89ZM272.39 497.89L275.14 503.11L277.89 497.89ZM280.12 497.89L282.87 503.11L285.62 497.89ZM287.85 497.89L290.60 503.11L293.35 497.89ZM295.58 497.89L298.33 503.11L301.08 497.89ZM303.31 497.89L306.06 503.11L308.81 497.89ZM311.04 497.89L313.79 503.11L316.54 497.89ZM318.77 497.89L321.52 503.11L324.27 497.89ZM326.50 497.89L329.25 503.11L332.00 497.89ZM256.93 501.39L259.68 506.61L262.43 501.39ZM264.66 501.39L267.41 506.61L270.16 501.39ZM272.39 501.39L275.14 506.61L277.89 501.39ZM280.12 501.39L282.87 506.61L285.62 501.39ZM287.85 501.39L290.60 506.61L293.35 501.39ZM291.72 501.39L294.47 506.61L297.22 501.39ZM299.45 501.39L302.20 506.61L304.95 501.39ZM307.18 501.39L309.93 506.61L312.68 501.39ZM249.20 505.99L251.95 511.21L254.70 505.99ZM256.93 505.99L259.68 511.21L262.43 505.99ZM264.66 505.99L267.41 511.21L270.16 505.99ZM272.39 505.99L275.14 511.21L277.89 505.99ZM280.12 505.99L282.87 511.21L285.62 505.99ZM295.58 505.99L298.33 511.21L301.08 505.99ZM303.31 505.99L306.06 511.21L308.81 505.99ZM311.04 505.99L313.79 511.21L316.54 505.99ZM318.77 505.99L321.52 511.21L324.27 505.99ZM326.50 505.99L329.25 511.21L332.00 505.99ZM287.85 508.89L290.60 514.11L293.35 508.89ZM295.58 508.89L298.33 514.11L301.08 508.89ZM253.07 511.09L255.82 516.31L258.57 511.09ZM260.80 511.09L263.55 516.31L266.30 511.09ZM268.53 511.09L271.28 516.31L274.03 511.09ZM276.25 511.09L279.00 516.31L281.75 511.09ZM283.99 511.09L286.74 516.31L289.49 511.09ZM291.72 511.09L294.47 516.31L297.22 511.09ZM299.45 511.09L302.20 516.31L304.95 511.09ZM307.18 511.09L309.93 516.31L312.68 511.09ZM314.91 511.09L317.66 516.31L320.41 511.09ZM322.64 511.09L325.39 516.31L328.14 511.09ZM249.20 514.69L251.95 519.91L254.70 514.69ZM256.93 514.69L259.68 519.91L262.43 514.69ZM264.66 514.69L267.41 519.91L270.16 514.69ZM272.39 514.69L275.14 519.91L277.89 514.69ZM280.12 514.69L282.87 519.91L285.62 514.69ZM287.85 514.69L290.60 519.91L293.35 514.69ZM295.58 514.69L298.33 519.91L301.08 514.69ZM303.31 514.69L306.06 519.91L308.81 514.69ZM311.04 514.69L313.79 519.91L316.54 514.69ZM318.77 514.69L321.52 519.91L324.27 514.69ZM326.50 514.69L329.25 519.91L332.00 514.69ZM272.39 518.39L275.14 523.61L277.89 518.39ZM280.12 518.39L282.87 523.61L285.62 518.39ZM287.85 518.39L290.60 523.61L293.35 518.39ZM291.72 518.39L294.47 523.61L297.22 518.39ZM249.20 523.19L251.95 528.41L254.70 523.19ZM256.93 523.19L259.68 528.41L262.43 523.19ZM264.66 523.19L267.41 528.41L270.16 523.19ZM272.39 523.19L275.14 528.41L277.89 523.19ZM280.12 523.19L282.87 528.41L285.62 523.19ZM287.85 523.19L290.60 528.41L293.35 523.19ZM295.58 523.19L298.33 528.41L301.08 523.19ZM303.31 523.19L306.06 528.41L308.81 523.19ZM311.04 523.19L313.79 528.41L316.54 523.19ZM318.77 523.19L321.52 528.41L324.27 523.19ZM326.50 523.19L329.25 528.41L332.00 523.19ZM249.20 527.39L251.95 532.61L254.70 527.39ZM287.85 527.39L290.60 532.61L293.35 527.39ZM291.72 527.39L294.47 532.61L297.22 527.39ZM295.58 527.39L298.33 532.61L301.08 527.39ZM256.93 531.89L259.68 537.11L262.43 531.89ZM264.66 531.89L267.41 537.11L270.16 531.89ZM272.39 531.89L275.14 537.11L277.89 531.89ZM280.12 531.89L282.87 537.11L285.62 531.89ZM326.50 531.89L329.25 537.11L332.00 531.89ZM272.39 534.39L275.14 539.61L277.89 534.39ZM280.12 534.39L282.87 539.61L285.62 534.39ZM287.85 534.39L290.60 539.61L293.35 534.39ZM291.72 534.39L294.47 539.61L297.22 534.39ZM295.58 534.39L298.33 539.61L301.08 534.39ZM303.31 534.39L306.06 539.61L308.81 534.39ZM311.04 534.39L313.79 539.61L316.54 534.39ZM318.77 534.39L321.52 539.61L324.27 534.39ZM249.20 538.09L251.95 543.31L254.70 538.09ZM256.93 538.09L259.68 543.31L262.43 538.09ZM264.66 538.09L267.41 543.31L270.16 538.09ZM280.12 538.09L282.87 543.31L285.62 538.09ZM326.50 538.09L329.25 543.31L332.00 538.09ZM272.39 539.79L275.14 545.01L277.89 539.79ZM311.04 539.79L313.79 545.01L316.54 539.79ZM318.77 539.79L321.52 545.01L324.27 539.79ZM272.39 543.39L275.14 548.61L277.89 543.39ZM280.12 543.39L282.87 548.61L285.62 543.39ZM287.85 543.39L290.60 548.61L293.35 543.39ZM295.58 543.39L298.33 548.61L301.08 543.39ZM303.31 543.39L306.06 548.61L308.81 543.39ZM256.93 547.69L259.68 552.91L262.43 547.69ZM264.66 547.69L267.41 552.91L270.16 547.69ZM311.04 547.69L313.79 552.91L316.54 547.69ZM318.77 547.69L321.52 552.91L324.27 547.69ZM272.39 550.39L275.14 555.61L277.89 550.39ZM280.12 550.39L282.87 555.61L285.62 550.39ZM287.85 550.39L290.60 555.61L293.35 550.39ZM295.58 550.39L298.33 555.61L301.08 550.39ZM303.31 550.39L306.06 555.61L308.81 550.39ZM272.39 554.69L275.14 559.91L277.89 554.69ZM295.58 554.69L298.33 559.91L301.08 554.69ZM280.12 559.09L282.87 564.31L285.62 559.09ZM287.85 559.09L290.60 564.31L293.35 559.09ZM295.58 571.39L298.33 576.61L301.08 571.39ZM287.85 574.79L290.60 580.01L293.35 574.79ZM287.85 584.39L290.60 589.61L293.35 584.39ZM295.58 603.79L298.33 609.01L301.08 603.79ZM287.85 609.89L290.60 615.11L293.35 609.89Z" fill="#000"/>
<path d="M409.84 453.30L412.54 456.00L409.84 458.70L407.14 456.00ZM417.57 455.30L420.27 458.00L417.57 460.70L414.87 458.00ZM433.03 454.40L435.73 457.10L433.03 459.80L430.33 457.10ZM425.30 459.00L428.00 461.70L425.30 464.40L422.60 461.70ZM417.57 469.50L420.27 472.20L417.57 474.90L414.87 472.20ZM433.03 470.80L435.73 473.50L433.03 476.20L430.33 473.50ZM425.30 472.80L428.00 475.50L425.30 478.20L422.60 475.50ZM433.03 477.00L435.73 479.70L433.03 482.40L430.33 479.70ZM417.57 478.70L420.27 481.40L417.57 484.10L414.87 481.40ZM425.30 480.90L428.00 483.60L425.30 486.30L422.60 483.60ZM448.49 483.90L451.19 486.60L448.49 489.30L445.79 486.60ZM409.84 485.90L412.54 488.60L409.84 491.30L407.14 488.60ZM440.76 485.90L443.46 488.60L440.76 491.30L438.06 488.60ZM417.57 488.80L420.27 491.50L417.57 494.20L414.87 491.50ZM433.03 489.90L435.73 492.60L433.03 495.30L430.33 492.60ZM425.30 490.50L428.00 493.20L425.30 495.90L422.60 493.20ZM440.76 494.70L443.46 497.40L440.76 500.10L438.06 497.40ZM409.84 496.70L412.54 499.40L409.84 502.10L407.14 499.40ZM433.03 497.70L435.73 500.40L433.03 503.10L430.33 500.40ZM417.57 500.80L420.27 503.50L417.57 506.20L414.87 503.50ZM425.30 501.90L428.00 504.60L425.30 507.30L422.60 504.60ZM402.11 503.70L404.81 506.40L402.11 509.10L399.41 506.40ZM448.49 503.70L451.19 506.40L448.49 509.10L445.79 506.40ZM409.84 503.70L412.54 506.40L409.84 509.10L407.14 506.40ZM425.30 503.70L428.00 506.40L425.30 509.10L422.60 506.40ZM440.76 505.60L443.46 508.30L440.76 511.00L438.06 508.30ZM417.57 507.30L420.27 510.00L417.57 512.70L414.87 510.00ZM433.03 507.80L435.73 510.50L433.03 513.20L430.33 510.50ZM425.30 510.20L428.00 512.90L425.30 515.60L422.60 512.90ZM386.65 513.50L389.35 516.20L386.65 518.90L383.95 516.20ZM456.22 513.50L458.92 516.20L456.22 518.90L453.52 516.20ZM394.38 514.80L397.08 517.50L394.38 520.20L391.68 517.50ZM448.49 514.80L451.19 517.50L448.49 520.20L445.79 517.50ZM402.11 515.80L404.81 518.50L402.11 521.20L399.41 518.50ZM409.84 516.80L412.54 519.50L409.84 522.20L407.14 519.50ZM440.76 516.80L443.46 519.50L440.76 522.20L438.06 519.50ZM433.03 518.10L435.73 520.80L433.03 523.50L430.33 520.80ZM417.57 519.40L420.27 522.10L417.57 524.80L414.87 522.10ZM425.30 520.00L428.00 522.70L425.30 525.40L422.60 522.70ZM409.84 521.00L412.54 523.70L409.84 526.40L407.14 523.70ZM440.76 521.00L443.46 523.70L440.76 526.40L438.06 523.70ZM417.57 523.30L420.27 526.00L417.57 528.70L414.87 526.00ZM433.03 525.70L435.73 528.40L433.03 531.10L430.33 528.40ZM425.30 527.90L428.00 530.60L425.30 533.30L422.60 530.60ZM402.11 530.50L404.81 533.20L402.11 535.90L399.41 533.20ZM440.76 531.50L443.46 534.20L440.76 536.90L438.06 534.20ZM409.84 532.90L412.54 535.60L409.84 538.30L407.14 535.60ZM433.03 533.20L435.73 535.90L433.03 538.60L430.33 535.90ZM417.57 534.90L420.27 537.60L417.57 540.30L414.87 537.60ZM425.30 537.80L428.00 540.50L425.30 543.20L422.60 540.50ZM433.03 546.70L435.73 549.40L433.03 552.10L430.33 549.40ZM425.30 550.30L428.00 553.00L425.30 555.70L422.60 553.00ZM417.57 554.60L420.27 557.30L417.57 560.00L414.87 557.30ZM425.30 559.10L428.00 561.80L425.30 564.50L422.60 561.80ZM425.30 575.50L428.00 578.20L425.30 580.90L422.60 578.20Z" fill="#000"/>
<path d="M557.25 384.80a2.35 2.35 0 1 0 4.70 0a2.35 2.35 0 1 0 -4.70 0ZM557.25 394.70a2.35 2.35 0 1 0 4.70 0a2.35 2.35 0 1 0 -4.70 0ZM557.25 403.80a2.35 2.35 0 1 0 4.70 0a2.35 2.35 0 1 0 -4.70 0ZM565.00 409.70a2.35 2.35 0 1 0 4.70 0a2.35 2.35 0 1 0 -4.70 0ZM549.50 415.90a2.35 2.35 0 1 0 4.70 0a2.35 2.35 0 1 0 -4.70 0ZM557.25 416.60a2.35 2.35 0 1 0 4.70 0a2.35 2.35 0 1 0 -4.70 0ZM526.25 420.50a2.35 2.35 0 1 0 4.70 0a2.35 2.35 0 1 0 -4.70 0ZM588.25 420.50a2.35 2.35 0 1 0 4.70 0a2.35 2.35 0 1 0 -4.70 0ZM534.00 421.40a2.35 2.35 0 1 0 4.70 0a2.35 2.35 0 1 0 -4.70 0ZM580.50 422.00a2.35 2.35 0 1 0 4.70 0a2.35 2.35 0 1 0 -4.70 0ZM541.75 422.90a2.35 2.35 0 1 0 4.70 0a2.35 2.35 0 1 0 -4.70 0ZM572.75 425.40a2.35 2.35 0 1 0 4.70 0a2.35 2.35 0 1 0 -4.70 0ZM549.50 425.80a2.35 2.35 0 1 0 4.70 0a2.35 2.35 0 1 0 -4.70 0ZM565.00 425.80a2.35 2.35 0 1 0 4.70 0a2.35 2.35 0 1 0 -4.70 0ZM557.25 426.50a2.35 2.35 0 1 0 4.70 0a2.35 2.35 0 1 0 -4.70 0ZM541.75 430.50a2.35 2.35 0 1 0 4.70 0a2.35 2.35 0 1 0 -4.70 0ZM565.00 431.20a2.35 2.35 0 1 0 4.70 0a2.35 2.35 0 1 0 -4.70 0ZM549.50 433.00a2.35 2.35 0 1 0 4.70 0a2.35 2.35 0 1 0 -4.70 0ZM557.25 437.00a2.35 2.35 0 1 0 4.70 0a2.35 2.35 0 1 0 -4.70 0ZM526.25 438.20a2.35 2.35 0 1 0 4.70 0a2.35 2.35 0 1 0 -4.70 0ZM534.00 438.20a2.35 2.35 0 1 0 4.70 0a2.35 2.35 0 1 0 -4.70 0ZM588.25 438.20a2.35 2.35 0 1 0 4.70 0a2.35 2.35 0 1 0 -4.70 0ZM541.75 440.10a2.35 2.35 0 1 0 4.70 0a2.35 2.35 0 1 0 -4.70 0ZM580.50 440.10a2.35 2.35 0 1 0 4.70 0a2.35 2.35 0 1 0 -4.70 0ZM572.75 441.40a2.35 2.35 0 1 0 4.70 0a2.35 2.35 0 1 0 -4.70 0ZM549.50 444.50a2.35 2.35 0 1 0 4.70 0a2.35 2.35 0 1 0 -4.70 0ZM565.00 444.50a2.35 2.35 0 1 0 4.70 0a2.35 2.35 0 1 0 -4.70 0ZM557.25 445.50a2.35 2.35 0 1 0 4.70 0a2.35 2.35 0 1 0 -4.70 0ZM518.50 446.70a2.35 2.35 0 1 0 4.70 0a2.35 2.35 0 1 0 -4.70 0ZM596.00 446.70a2.35 2.35 0 1 0 4.70 0a2.35 2.35 0 1 0 -4.70 0ZM526.25 448.10a2.35 2.35 0 1 0 4.70 0a2.35 2.35 0 1 0 -4.70 0ZM588.25 448.10a2.35 2.35 0 1 0 4.70 0a2.35 2.35 0 1 0 -4.70 0ZM534.00 449.60a2.35 2.35 0 1 0 4.70 0a2.35 2.35 0 1 0 -4.70 0ZM541.75 450.30a2.35 2.35 0 1 0 4.70 0a2.35 2.35 0 1 0 -4.70 0ZM572.75 450.30a2.35 2.35 0 1 0 4.70 0a2.35 2.35 0 1 0 -4.70 0ZM580.50 450.30a2.35 2.35 0 1 0 4.70 0a2.35 2.35 0 1 0 -4.70 0ZM565.00 450.30a2.35 2.35 0 1 0 4.70 0a2.35 2.35 0 1 0 -4.70 0ZM549.50 452.20a2.35 2.35 0 1 0 4.70 0a2.35 2.35 0 1 0 -4.70 0ZM557.25 454.00a2.35 2.35 0 1 0 4.70 0a2.35 2.35 0 1 0 -4.70 0ZM518.50 456.90a2.35 2.35 0 1 0 4.70 0a2.35 2.35 0 1 0 -4.70 0ZM596.00 458.40a2.35 2.35 0 1 0 4.70 0a2.35 2.35 0 1 0 -4.70 0ZM526.25 459.50a2.35 2.35 0 1 0 4.70 0a2.35 2.35 0 1 0 -4.70 0ZM534.00 461.00a2.35 2.35 0 1 0 4.70 0a2.35 2.35 0 1 0 -4.70 0ZM580.50 461.00a2.35 2.35 0 1 0 4.70 0a2.35 2.35 0 1 0 -4.70 0ZM588.25 461.00a2.35 2.35 0 1 0 4.70 0a2.35 2.35 0 1 0 -4.70 0ZM541.75 461.70a2.35 2.35 0 1 0 4.70 0a2.35 2.35 0 1 0 -4.70 0ZM572.75 461.70a2.35 2.35 0 1 0 4.70 0a2.35 2.35 0 1 0 -4.70 0ZM549.50 463.20a2.35 2.35 0 1 0 4.70 0a2.35 2.35 0 1 0 -4.70 0ZM557.25 463.20a2.35 2.35 0 1 0 4.70 0a2.35 2.35 0 1 0 -4.70 0ZM565.00 463.20a2.35 2.35 0 1 0 4.70 0a2.35 2.35 0 1 0 -4.70 0ZM568.88 463.90a2.35 2.35 0 1 0 4.70 0a2.35 2.35 0 1 0 -4.70 0ZM541.75 466.40a2.35 2.35 0 1 0 4.70 0a2.35 2.35 0 1 0 -4.70 0ZM561.12 466.40a2.35 2.35 0 1 0 4.70 0a2.35 2.35 0 1 0 -4.70 0ZM518.50 469.00a2.35 2.35 0 1 0 4.70 0a2.35 2.35 0 1 0 -4.70 0ZM526.25 469.00a2.35 2.35 0 1 0 4.70 0a2.35 2.35 0 1 0 -4.70 0ZM534.00 469.00a2.35 2.35 0 1 0 4.70 0a2.35 2.35 0 1 0 -4.70 0ZM549.50 469.00a2.35 2.35 0 1 0 4.70 0a2.35 2.35 0 1 0 -4.70 0ZM557.25 469.00a2.35 2.35 0 1 0 4.70 0a2.35 2.35 0 1 0 -4.70 0ZM565.00 469.00a2.35 2.35 0 1 0 4.70 0a2.35 2.35 0 1 0 -4.70 0ZM572.75 469.00a2.35 2.35 0 1 0 4.70 0a2.35 2.35 0 1 0 -4.70 0ZM580.50 469.00a2.35 2.35 0 1 0 4.70 0a2.35 2.35 0 1 0 -4.70 0ZM588.25 469.00a2.35 2.35 0 1 0 4.70 0a2.35 2.35 0 1 0 -4.70 0ZM596.00 469.00a2.35 2.35 0 1 0 4.70 0a2.35 2.35 0 1 0 -4.70 0ZM541.75 470.00a2.35 2.35 0 1 0 4.70 0a2.35 2.35 0 1 0 -4.70 0ZM549.50 470.00a2.35 2.35 0 1 0 4.70 0a2.35 2.35 0 1 0 -4.70 0ZM561.12 470.00a2.35 2.35 0 1 0 4.70 0a2.35 2.35 0 1 0 -4.70 0ZM530.12 472.20a2.35 2.35 0 1 0 4.70 0a2.35 2.35 0 1 0 -4.70 0ZM537.88 472.20a2.35 2.35 0 1 0 4.70 0a2.35 2.35 0 1 0 -4.70 0ZM553.38 472.20a2.35 2.35 0 1 0 4.70 0a2.35 2.35 0 1 0 -4.70 0ZM580.50 472.20a2.35 2.35 0 1 0 4.70 0a2.35 2.35 0 1 0 -4.70 0ZM584.38 472.20a2.35 2.35 0 1 0 4.70 0a2.35 2.35 0 1 0 -4.70 0ZM592.12 472.20a2.35 2.35 0 1 0 4.70 0a2.35 2.35 0 1 0 -4.70 0ZM545.62 473.70a2.35 2.35 0 1 0 4.70 0a2.35 2.35 0 1 0 -4.70 0ZM561.12 473.70a2.35 2.35 0 1 0 4.70 0a2.35 2.35 0 1 0 -4.70 0ZM568.88 473.70a2.35 2.35 0 1 0 4.70 0a2.35 2.35 0 1 0 -4.70 0ZM576.62 473.70a2.35 2.35 0 1 0 4.70 0a2.35 2.35 0 1 0 -4.70 0ZM518.50 474.70a2.35 2.35 0 1 0 4.70 0a2.35 2.35 0 1 0 -4.70 0ZM596.00 474.70a2.35 2.35 0 1 0 4.70 0a2.35 2.35 0 1 0 -4.70 0ZM526.25 475.90a2.35 2.35 0 1 0 4.70 0a2.35 2.35 0 1 0 -4.70 0ZM588.25 475.90a2.35 2.35 0 1 0 4.70 0a2.35 2.35 0 1 0 -4.70 0ZM534.00 477.00a2.35 2.35 0 1 0 4.70 0a2.35 2.35 0 1 0 -4.70 0ZM580.50 477.00a2.35 2.35 0 1 0 4.70 0a2.35 2.35 0 1 0 -4.70 0ZM541.75 478.10a2.35 2.35 0 1 0 4.70 0a2.35 2.35 0 1 0 -4.70 0ZM549.50 478.10a2.35 2.35 0 1 0 4.70 0a2.35 2.35 0 1 0 -4.70 0ZM572.75 478.10a2.35 2.35 0 1 0 4.70 0a2.35 2.35 0 1 0 -4.70 0ZM565.00 479.20a2.35 2.35 0 1 0 4.70 0a2.35 2.35 0 1 0 -4.70 0ZM557.25 479.50a2.35 2.35 0 1 0 4.70 0a2.35 2.35 0 1 0 -4.70 0ZM518.50 483.90a2.35 2.35 0 1 0 4.70 0a2.35 2.35 0 1 0 -4.70 0ZM526.25 483.90a2.35 2.35 0 1 0 4.70 0a2.35 2.35 0 1 0 -4.70 0ZM580.50 483.90a2.35 2.35 0 1 0 4.70 0a2.35 2.35 0 1 0 -4.70 0ZM588.25 483.90a2.35 2.35 0 1 0 4.70 0a2.35 2.35 0 1 0 -4.70 0ZM534.00 485.80a2.35 2.35 0 1 0 4.70 0a2.35 2.35 0 1 0 -4.70 0ZM572.75 485.80a2.35 2.35 0 1 0 4.70 0a2.35 2.35 0 1 0 -4.70 0ZM541.75 486.40a2.35 2.35 0 1 0 4.70 0a2.35 2.35 0 1 0 -4.70 0ZM565.00 486.80a2.35 2.35 0 1 0 4.70 0a2.35 2.35 0 1 0 -4.70 0ZM549.50 487.30a2.35 2.35 0 1 0 4.70 0a2.35 2.35 0 1 0 -4.70 0ZM557.25 488.70a2.35 2.35 0 1 0 4.70 0a2.35 2.35 0 1 0 -4.70 0ZM572.75 494.60a2.35 2.35 0 1 0 4.70 0a2.35 2.35 0 1 0 -4.70 0ZM549.50 495.10a2.35 2.35 0 1 0 4.70 0a2.35 2.35 0 1 0 -4.70 0ZM565.00 496.30a2.35 2.35 0 1 0 4.70 0a2.35 2.35 0 1 0 -4.70 0ZM557.25 498.10a2.35 2.35 0 1 0 4.70 0a2.35 2.35 0 1 0 -4.70 0ZM572.75 501.90a2.35 2.35 0 1 0 4.70 0a2.35 2.35 0 1 0 -4.70 0ZM541.75 503.60a2.35 2.35 0 1 0 4.70 0a2.35 2.35 0 1 0 -4.70 0ZM565.00 503.60a2.35 2.35 0 1 0 4.70 0a2.35 2.35 0 1 0 -4.70 0ZM549.50 506.40a2.35 2.35 0 1 0 4.70 0a2.35 2.35 0 1 0 -4.70 0ZM557.25 508.10a2.35 2.35 0 1 0 4.70 0a2.35 2.35 0 1 0 -4.70 0ZM549.50 510.30a2.35 2.35 0 1 0 4.70 0a2.35 2.35 0 1 0 -4.70 0ZM565.00 514.40a2.35 2.35 0 1 0 4.70 0a2.35 2.35 0 1 0 -4.70 0ZM557.25 518.10a2.35 2.35 0 1 0 4.70 0a2.35 2.35 0 1 0 -4.70 0ZM557.25 538.40a2.35 2.35 0 1 0 4.70 0a2.35 2.35 0 1 0 -4.70 0ZM557.25 554.90a2.35 2.35 0 1 0 4.70 0a2.35 2.35 0 1 0 -4.70 0Z" fill="#000"/>
</svg>
</body></html>
